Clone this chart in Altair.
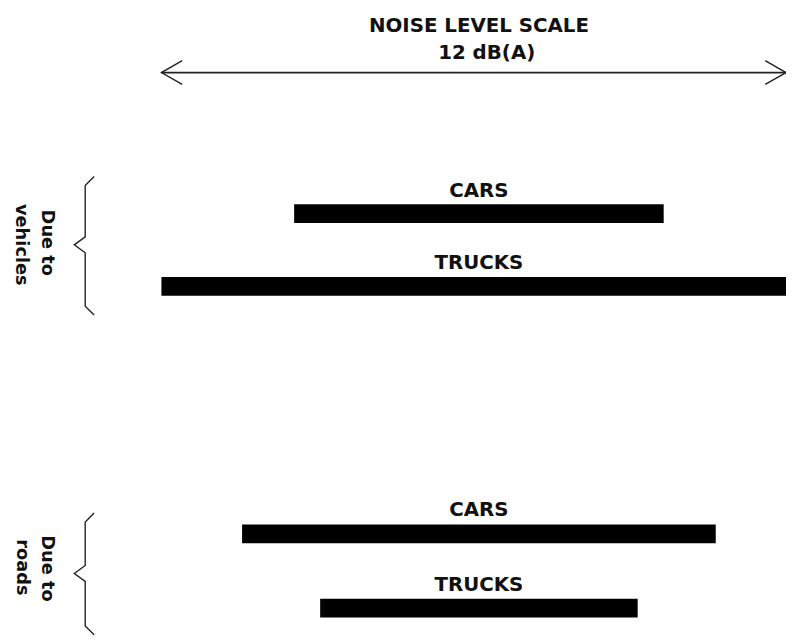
import altair as alt
import pandas as pd

# ---------------- data ----------------
causes = ["Due to vehicles", "Due to vehicles", "Due to roads", "Due to roads"]
vehicle_types = ["CARS", "TRUCKS", "CARS", "TRUCKS"]
range_low_db = [2.55, 0.0, 1.55, 3.05]
range_high_db = [9.65, 12.0, 10.65, 9.15]
scale_title = "NOISE LEVEL SCALE"
scale_label = "12 dB(A)"
scale_extent_db = [0, 12]
group_label_lines = [["Due to", "vehicles"], ["Due to", "roads"]]

# ---------------- layout (chart pixels) ----------------
W, H = 786, 633
X0, X1 = 155, 786                      # pixel span of the 12 dB scale
bar_rows_y = [204.5, 278, 528, 603]    # bar centre lines
label_rows_y = [181.5, 254.5, 504, 580]
label_center_db = 6.1
title_y = [14.5, 42.5]
title_x_db = [6.1, 6.25]
arrow_y = 62
BLACK = "#111111"
FONT = "DejaVu Sans"

xscale = alt.Scale(domain=scale_extent_db, range=[X0, X1])

bars_df = pd.DataFrame({
    "cause": causes,
    "vehicle": vehicle_types,
    "low": range_low_db,
    "high": range_high_db,
    "row_y": bar_rows_y,
    "label_y": label_rows_y,
    "label_x": [label_center_db] * len(causes),
})

bars = alt.Chart(bars_df).mark_rule(strokeWidth=19, color="#000000", strokeCap="butt").encode(
    x=alt.X("low:Q", scale=xscale, axis=None),
    x2="high:Q",
    y=alt.Y("row_y:Q", scale=None, axis=None),
)

bar_labels = alt.Chart(bars_df).mark_text(
    font=FONT, fontWeight="bold", fontSize=20, align="center", baseline="middle", color=BLACK
).encode(
    x=alt.X("label_x:Q", scale=xscale, axis=None),
    y=alt.Y("label_y:Q", scale=None, axis=None),
    text="vehicle:N",
)

# scale arrow
arrow_df = pd.DataFrame({"a": [scale_extent_db[0]], "b": [scale_extent_db[1]], "y": [arrow_y]})
arrow = alt.Chart(arrow_df).mark_rule(strokeWidth=1.6, color="#222222").encode(
    x=alt.X("a:Q", scale=xscale, axis=None),
    x2="b:Q",
    y=alt.Y("y:Q", scale=None, axis=None),
)

heads_df = pd.DataFrame({
    "px": [X0 + 21, X0, X0 + 21, X1 - 21, X1, X1 - 21],
    "py": [arrow_y - 12, arrow_y, arrow_y + 12, arrow_y - 12, arrow_y, arrow_y + 12],
    "g": ["l", "l", "l", "r", "r", "r"],
    "o": [0, 1, 2, 0, 1, 2],
})
heads = alt.Chart(heads_df).mark_line(color="#222222", strokeWidth=1.4).encode(
    x=alt.X("px:Q", scale=None, axis=None),
    y=alt.Y("py:Q", scale=None, axis=None),
    detail="g:N",
    order="o:Q",
)

title_df = pd.DataFrame({"t": [scale_title, scale_label], "x": title_x_db, "y": title_y})
titles = alt.Chart(title_df).mark_text(
    font=FONT, fontWeight="bold", fontSize=20, align="center", baseline="middle", color=BLACK
).encode(
    x=alt.X("x:Q", scale=xscale, axis=None),
    y=alt.Y("y:Q", scale=None, axis=None),
    text="t:N",
)

# braces
def brace(top, tip, bottom, name):
    xs = [87, 78, 78, 67, 78, 78, 87]
    ys = [top, top + 9, tip - 8, tip, tip + 8, bottom - 9, bottom]
    return pd.DataFrame({"px": xs, "py": ys, "g": [name] * 7, "o": list(range(7))})

braces_df = pd.concat([brace(167, 236, 307, "v"), brace(507, 568, 630, "r")])
braces = alt.Chart(braces_df).mark_line(color="#222222", strokeWidth=1.4).encode(
    x=alt.X("px:Q", scale=None, axis=None),
    y=alt.Y("py:Q", scale=None, axis=None),
    detail="g:N",
    order="o:Q",
)

side_df = pd.DataFrame({
    "t": [group_label_lines[0][0], group_label_lines[0][1], group_label_lines[1][0], group_label_lines[1][1]],
    "px": [39, 13, 39, 14],
    "py": [234, 236, 563, 562],
})
side = alt.Chart(side_df).mark_text(
    font=FONT, fontWeight="bold", fontSize=18, angle=90, align="center", baseline="middle", color=BLACK
).encode(
    x=alt.X("px:Q", scale=None, axis=None),
    y=alt.Y("py:Q", scale=None, axis=None),
    text="t:N",
)

chart = alt.layer(arrow, heads, titles, bars, bar_labels, braces, side).resolve_scale(
    x="independent", y="independent"
).properties(
    width=W, height=H, autosize=alt.AutoSizeParams(type="none"), padding=0, background="white"
).configure_view(stroke=None)

chart.save("out.html", embed_options={"renderer": "svg", "actions": False})
